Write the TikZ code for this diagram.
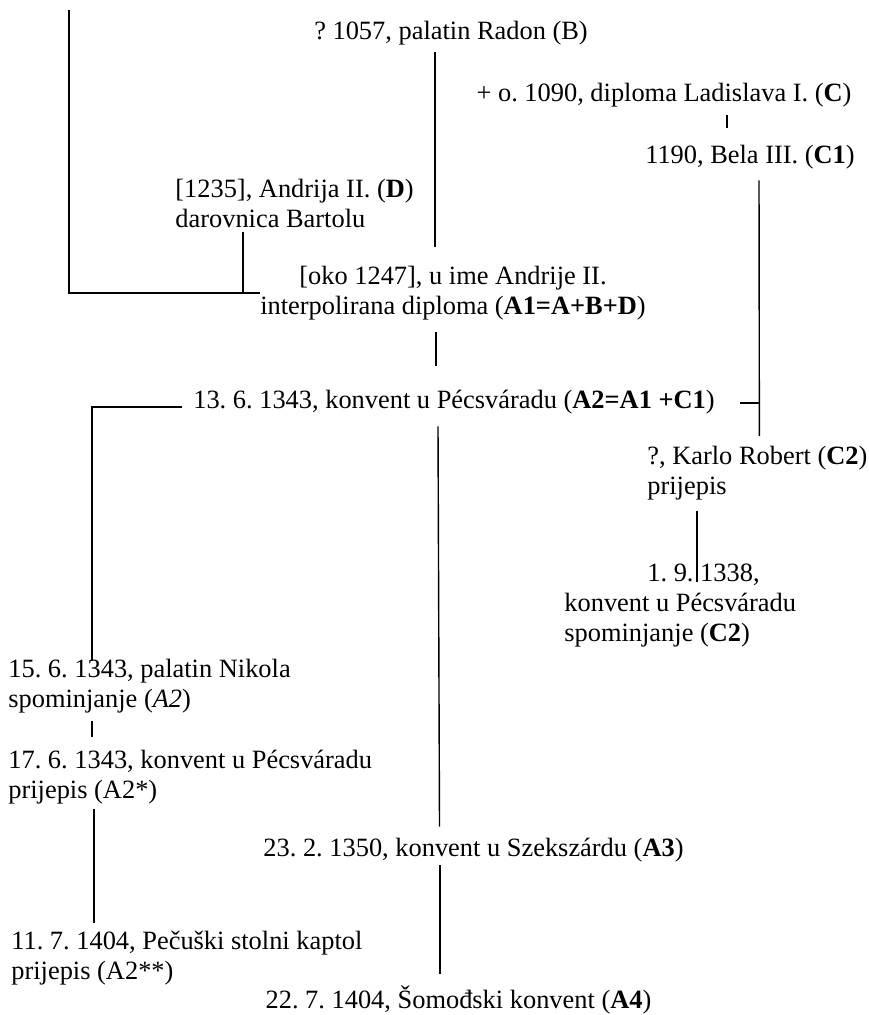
\documentclass[tikz,border=0pt]{standalone}
\usepackage{fontspec}
\setmainfont{Liberation Serif}
\usepackage{tikz}
\usetikzlibrary{calc}
\frenchspacing
\tikzstyle{isprava}=[inner sep=0pt, align=center, font=\fontsize{13.2}{15}\selectfont]
\tikzstyle{ispravl}=[isprava, align=left, anchor=west]
\tikzstyle{line} = [draw, line width=0.7pt, color=black]
\newcommand{\isprava}[2]{node (p#1)[isprava]{#2}}
\newcommand{\ispraval}[2]{node (p#1)[ispravl]{#2}}
\begin{document}
\begin{tikzpicture}[x=0.5pt,y=-0.5pt]
		\useasboundingbox (0,0) rectangle (868,1015);
		
		% Draw diagram elements
		\coordinate (pA) at (69,10);
		\path (451,33) \isprava{B}{? 1057, palatin Radon (B)};
		\path (pB.center)+(213,62) \isprava{C}{+ o. 1090, diploma Ladislava I. (\textbf{C})};
		\path (pC.center)+(86,62) \isprava{C1}{1190, Bela III. (\textbf{C1})};
		\path (pB.center)+(-276,170) \ispraval{D}{[1235], Andrija II. (\textbf{D})\\darovnica Bartolu};
		\path (pB.center)+(2,260) \isprava{A1}{[oko 1247], u ime Andrije II.\\interpolirana diploma (\textbf{A1=A+B+D})};
		\path (pA1.center)+(1,109) \isprava{A2}{13. 6. 1343, konvent u Pécsváradu (\textbf{A2=A1 +C1})};
		
		\path (pC1.center)+(-103,316.5) \ispraval{C2}{?, Karlo Robert (\textbf{C2})\\prijepis};
		\path (pC2.west)+(-83,132.5) \ispraval{C2m}{\hspace*{41.5pt}1. 9. 1338,\\konvent u Pécsváradu\\spominjanje (\textbf{C2})};
		
		\path (pA2.center)+(-446,284.5) \ispraval{A2m}{15. 6. 1343, palatin Nikola\\spominjanje (\textit{A2})};
		\path (pA2m.west)+(0,91) \ispraval{A2p}{17. 6. 1343, konvent u Pécsváradu\\prijepis (A2*)};
		\path (pA2p.west)+(3,180.5) \ispraval{A2pp}{11. 7. 1404, Pečuški stolni kaptol\\prijepis (A2**)};
		
		\path (pA2.center)+(19.5,448) \isprava{A3}{23. 2. 1350, konvent u Szekszárdu (\textbf{A3})};
		\path (pA3.center)+(-15,150) \isprava{A4}{22. 7. 1404, Šomođski konvent (\textbf{A4})};
		
		% Draw lines between elements
		\path [line] (pA) |- (pA1.west);
		\path [line] ($(pD.south west)+(68,4)$) |- (pA1.west);
		\path [line] ($(pB.south)+(-16,7)$) -- ($(pA1.north)+(-18,-19)$);
		\path [line] ($(pC.south)+(63,8)$) -- ($(pC1.north)+(-23,-17)$);
		\path [line] ($(pC1.south)+(9,11)$) -- ($(pC2.north)+(2,-10)$);
		\path [line] ($(pA2.east)+(25,1)$) -- ($(pA2.east)+(45,1)$);
		\path [line] ($(pA1.south)+(-17,12)$) -- ($(pA2.north)+(-18,-24)$);
		\path [line] ($(pA2.west)+(-11,5)$) -| ($(pA2m.north west)+(84,2)$);
		\path [line] ($(pA2m.south west)+(84,7)$) -- ($(pA2p.north west)+(84,-13)$);
		\path [line] ($(pA2p.south west)+(86,4)$) -- ($(pA2pp.north west)+(83,-8)$);
		\path [line] ($(pC2.south west)+(50,10)$) -- ($(pC2m.north west)+(133,18)$);
		\path [line] ($(pA2.south)+(-16,12)$) -- ($(pA3.north)+(-34,-11)$);
		\path [line] ($(pA3.south)+(-33.5,3)$) -- ($(pA4.north)+(-18.5,-11)$);
		\end{tikzpicture}
\end{document}
